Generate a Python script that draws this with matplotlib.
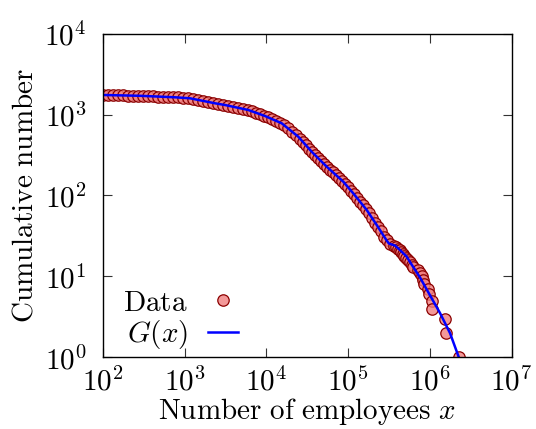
import numpy as np
import matplotlib
matplotlib.use("Agg")
import matplotlib.pyplot as plt


plt.rcParams["mathtext.fontset"] = "cm"

# cumulative number of firms vs number of employees
data_x = [
    100, 115, 133, 153, 176, 202, 233, 268, 308, 355,
    408, 470, 541, 623, 717, 825, 950, 1093, 1258, 1448,
    1667, 1919, 2208, 2542, 2926, 3368, 3876, 4462, 5135, 5911,
    6664, 7459, 8349, 9346, 10460, 11710, 13100, 14670, 16420, 18380,
    20570, 23030, 25780, 28050, 30520, 33220, 36140, 39340, 42810, 46590,
    50700, 55170, 60050, 65340, 71100, 77380, 84200, 91650, 99720, 108500,
    118100, 128500, 139900, 152200, 165600, 180300, 196100, 213500, 232300, 252800,
    275100, 299300, 325800,
    360000, 390000, 410000, 430000, 450000, 470000, 490000, 510000, 540000, 570000,
    600000, 620000, 720000, 760000, 800000, 830000, 860000, 950000, 970000, 1050000,
    1070000, 1540000, 1570000, 2270000,
]
data_y = [
    1741, 1736, 1730, 1725, 1721, 1716, 1711, 1704, 1696, 1687,
    1675, 1666, 1654, 1645, 1636, 1623, 1609, 1593, 1559, 1514,
    1471, 1430, 1390, 1356, 1321, 1288, 1248, 1210, 1172, 1137,
    1095, 1050, 1009, 969, 923, 877, 836, 794, 738, 674,
    615, 562, 504, 458, 417, 379, 344, 316, 290, 267,
    245, 225, 208, 193, 179, 165, 153, 140, 127, 115,
    104, 93, 84, 76, 68, 60, 53, 46, 41, 36,
    31, 28, 25,
    24, 23, 22, 21, 20, 19, 18, 17, 16, 15,
    14, 13, 12, 11, 10, 9, 8, 7, 6, 5,
    4, 3, 2, 1,
]

# fitted curve G(x)
fit_x = [
    101, 284, 761, 1161, 2350, 3112, 5998, 9610, 15380, 24550,
    36100, 54700, 87300, 115900, 169000, 224000, 296500, 316000, 375000, 431700,
    521000, 572000, 759000, 1000000, 1333000, 1767000, 2270000,
]
fit_y = [
    1741, 1702, 1631, 1585, 1375, 1310, 1137, 958, 779, 532,
    344, 227, 148, 106, 66.2, 43.2, 27.8, 25.5, 24.1, 21.2,
    17.6, 15.1, 9.72, 5.91, 3.54, 2.0, 1.0,
]

fig = plt.figure(figsize=(5.36, 4.29), dpi=100)
ax = fig.add_axes([0.1922, 0.1667, 0.7621, 0.7552])

ax.plot(data_x, data_y, linestyle="none", marker="o", markersize=8.2,
        markerfacecolor=(240/255, 128/255, 128/255, 0.8),
        markeredgecolor="#8b0000", markeredgewidth=0.9, label=r"$\mathrm{Data}$")
ax.plot(fit_x, fit_y, color="#0000ff", linewidth=1.8, label=r"$G(x)$")

ax.set_xscale("log")
ax.set_yscale("log")
ax.set_xlim(1e2, 1e7)
ax.set_ylim(1e0, 1e4)

xt = [1e2, 1e3, 1e4, 1e5, 1e6, 1e7]
yt = [1e0, 1e1, 1e2, 1e3, 1e4]
ax.set_xticks(xt)
ax.set_yticks(yt)
ax.set_xticklabels([r"$10^{\mathsf{%d}}$" % i for i in range(2, 8)])
ax.set_yticklabels([r"$10^{\mathsf{%d}}$" % i for i in range(0, 5)])
ax.minorticks_off()

ax.tick_params(which="major", direction="in", length=6.5, width=0.8,
               top=True, right=True, labelsize=21, color="#333333")
ax.tick_params(axis="x", pad=7)
ax.tick_params(axis="y", pad=12)
for s in ax.spines.values():
    s.set_linewidth(1.0)

ax.set_xlabel(r"$\mathrm{Number\ of\ employees}\ x$", fontsize=21, labelpad=0)
ax.set_ylabel(r"$\mathrm{Cumulative\ number}$", fontsize=21, labelpad=4)

ax.legend(loc="lower left", bbox_to_anchor=(0.05, 0.02), frameon=False,
          markerfirst=False, numpoints=1, fontsize=21, handlelength=1.0,
          handletextpad=0.7, labelspacing=0.05, borderpad=0, borderaxespad=0)

fig.savefig("out.png", dpi=100)
